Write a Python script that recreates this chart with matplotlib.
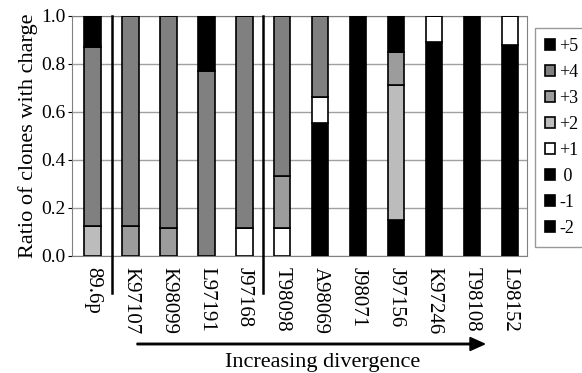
import numpy as np
import matplotlib.pyplot as plt
from matplotlib.patches import Patch, FancyArrow

clones = ['89.6p', 'K97107', 'K98099', 'L97191', 'J97168', 'T98098',
          'A98069', 'J98071', 'J97156', 'K97246', 'T98108', 'L98152']
charges = ['-2', '-1', '0', '+1', '+2', '+3', '+4', '+5']
colors = ['black', 'black', 'black', 'white', '#bcbcbc', '#9c9c9c', '#808080', 'black']

# fraction of clones per charge, bottom to top
neg2 = [0, 0, 0, 0, 0, 0, 0, 0, 0, 0, 0, 0]
neg1 = [0, 0, 0, 0, 0, 0, 0, 0, 0, 0, 0, 0]
zero = [0, 0, 0, 0, 0, 0, 0.555, 1.0, 0.148, 0.889, 1.0, 0.876]
pos1 = [0, 0, 0, 0, 0.115, 0.115, 0.108, 0, 0, 0.111, 0, 0.124]
pos2 = [0.125, 0, 0, 0, 0, 0, 0, 0, 0.563, 0, 0, 0]
pos3 = [0, 0.125, 0.115, 0, 0, 0.218, 0, 0, 0.139, 0, 0, 0]
pos4 = [0.745, 0.875, 0.885, 0.77, 0.885, 0.667, 0.337, 0, 0, 0, 0, 0]
pos5 = [0.13, 0, 0, 0.23, 0, 0, 0, 0, 0.15, 0, 0, 0]
series = [neg2, neg1, zero, pos1, pos2, pos3, pos4, pos5]

plt.rcParams['font.family'] = ['Liberation Serif', 'DejaVu Serif']

fig = plt.figure(figsize=(5.82, 3.73), dpi=100)
ax = fig.add_axes([0.124, 0.314, 0.782, 0.644])

x = np.arange(len(clones))
bottom = np.zeros(len(clones))
for vals, c in zip(series, colors):
    v = np.array(vals)
    ax.bar(x, v, 0.43, bottom=bottom, color=c, edgecolor='black', linewidth=1.2, zorder=3)
    bottom += v

ax.set_xlim(-0.54, 11.46)
ax.set_ylim(0, 1.0)
ticks = np.arange(0, 1.01, 0.2)
ax.set_yticks(ticks)
ax.set_yticklabels([f'{t:.1f}' for t in ticks], fontsize=14)
ax.yaxis.grid(True, color='#a0a0a0', linewidth=1)
ax.set_axisbelow(True)
ax.set_xticks(x)
ax.set_xticklabels(clones, rotation=-90, fontsize=15, va='top')
ax.tick_params(axis='x', length=0, pad=8)
ax.tick_params(axis='y', length=3, pad=2)
for s in ax.spines.values():
    s.set_color('#808080')
ax.set_ylabel('Ratio of clones with charge', fontsize=16, labelpad=2)

# group separators
for xs in [0.5, 4.5]:
    ax.plot([xs, xs], [1.0, -0.155], color='black', lw=1.8, clip_on=False, zorder=4)

# divergence arrow
fig.patches.append(FancyArrow(
    137 / 582, 1 - 344 / 373, (470 - 137) / 582, 0, width=0.004,
    head_width=0.035, head_length=0.025, length_includes_head=False,
    color='black', transform=fig.transFigure))
fig.text(323 / 582, 1 - 362 / 373, 'Increasing divergence', fontsize=16,
         ha='center', va='center')

handles = [Patch(facecolor=c, edgecolor='black', linewidth=1.2) for c in colors][::-1]
labels = [' 0' if l == '0' else l for l in charges[::-1]]
leg = fig.legend(handles, labels, loc='upper left', bbox_to_anchor=(535 / 582, 1 - 28 / 373),
                 fontsize=13, handlelength=0.55, handleheight=0.55, handletextpad=0.25,
                 labelspacing=0.5, borderpad=0.55, fancybox=False, frameon=True,
                 borderaxespad=0)
leg.get_frame().set_edgecolor('#808080')

fig.savefig('out.png', dpi=100)
